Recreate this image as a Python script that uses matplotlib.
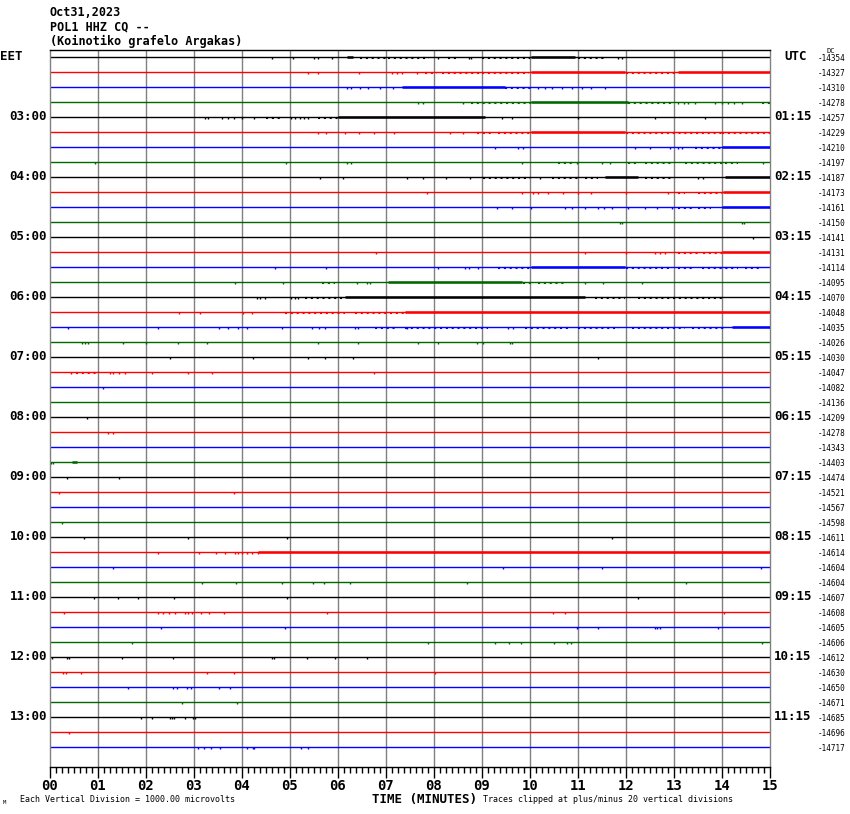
import numpy as np
import matplotlib
matplotlib.use("Agg")
import matplotlib.pyplot as plt

# Header / station info
title_lines = ["Oct31,2023", "POL1 HHZ CQ --", "(Koinotiko grafelo Argakas)"]

# DC offset printed at right of every trace (one per 15-minute line)
trace_dc = [-14354, -14327, -14310, -14278, -14257, -14229, -14210, -14197,
            -14187, -14173, -14161, -14150, -14141, -14131, -14114, -14095,
            -14070, -14048, -14035, -14026, -14030, -14047, -14082, -14136,
            -14209, -14278, -14343, -14403, -14474, -14521, -14567, -14598,
            -14611, -14614, -14604, -14604, -14607, -14608, -14605, -14606,
            -14612, -14630, -14650, -14671, -14685, -14696, -14717]

# hour labels, one every 4 traces
eet_labels = ["EET", "03:00", "04:00", "05:00", "06:00", "07:00", "08:00",
              "09:00", "10:00", "11:00", "12:00", "13:00"]
utc_labels = ["UTC", "01:15", "02:15", "03:15", "04:15", "05:15", "06:15",
              "07:15", "08:15", "09:15", "10:15", "11:15"]

minute_labels = ["%02d" % m for m in range(16)]

# isolated spikes (minute positions) per trace
trace_spikes = {
    0: [4.62, 5.07, 5.51, 5.59, 5.88, 8.09, 8.72, 8.78, 11.84, 11.91],
    1: [5.38, 5.59, 6.44, 7.12, 7.22, 7.33, 7.64],
    2: [6.18, 6.28, 6.46, 6.63, 6.88, 7.15, 10.17, 10.31, 10.45, 10.66,
        10.87, 11.08, 11.28, 11.56],
    3: [7.67, 7.78, 8.61, 13.09, 13.2, 13.3, 13.44, 13.85, 13.99, 14.13,
        14.25, 14.41],
    4: [3.23, 3.30, 3.58, 3.70, 3.84, 3.99, 4.24, 5.03, 5.1, 5.2, 5.3, 5.38,
        9.41, 9.62, 11.01, 12.6, 13.65],
    5: [5.59, 5.76, 6.15, 6.44, 6.76, 7.17, 8.33, 8.61],
    6: [9.27, 9.76, 9.86, 12.19, 12.5, 12.92, 13.09, 13.16],
    7: [0.94, 4.91, 6.18, 6.28, 9.83, 10.97, 11.49, 11.67, 14.86],
    8: [5.62, 6.11, 7.43, 7.78, 8.26, 8.75, 10.21, 13.51, 13.6],
    9: [7.85, 9.83, 10.06, 10.17, 10.38, 10.69, 11.01, 11.28, 12.01, 12.88],
    10: [9.31, 9.62, 10.03, 10.73, 10.87, 11.15, 11.42, 11.55, 11.7, 12.05,
         12.4, 12.64, 12.95],
    11: [11.88, 11.91, 14.41, 14.45],
    12: [14.65],
    13: [6.79, 11.15, 12.01, 12.6, 12.7, 12.81],
    14: [4.69, 5.76, 8.09, 8.65, 8.72, 8.92],
    15: [3.85, 4.86, 6.39, 6.6, 6.67, 11.15, 11.53, 12.33],
    16: [4.31, 4.38, 4.48, 5.03, 5.1, 5.17],
    17: [2.69, 3.13, 4.03, 4.2],
    18: [0.38, 2.26, 3.53, 3.70, 3.91, 4.10, 4.83, 5.45, 5.6, 5.73, 6.35,
         6.42, 7.43, 9.55, 9.65],
    19: [0.66, 0.73, 0.8, 1.53, 1.99, 2.66, 3.28, 5.59, 6.41, 7.67, 8.09,
         8.89, 9.03, 9.58, 9.62],
    20: [2.5, 4.22, 5.38, 5.73, 6.32, 11.41],
    21: [0.44, 1.24, 1.32, 1.44, 1.56, 2.12, 2.88, 3.38, 6.76],
    22: [1.11],
    24: [0.78],
    25: [1.2, 1.31],
    27: [0.02, 0.07],
    28: [0.36, 1.44],
    29: [0.19, 3.84],
    31: [0.24],
    32: [0.71, 2.88, 4.94, 11.7],
    33: [2.24, 3.1, 3.45, 3.65, 3.85, 3.92, 3.99, 4.1, 4.2, 4.34],
    34: [1.31, 9.44, 10.99, 11.51, 14.81],
    35: [3.17, 3.88, 4.83, 5.47, 5.7, 6.25, 8.68, 13.26],
    36: [0.92, 1.41, 1.84, 2.59, 4.94, 12.24],
    37: [0.3, 2.26, 2.36, 2.47, 2.6, 2.81, 2.88, 2.95, 3.15, 3.31, 3.63,
         5.78, 10.47, 10.72, 14.05],
    38: [2.31, 4.9, 10.97, 11.42, 12.6, 12.65, 12.71, 13.92],
    39: [1.7, 7.87, 9.27, 9.56, 9.81, 10.51, 10.78, 10.85, 14.83],
    40: [0.05, 0.35, 0.4, 1.51, 2.57, 4.62, 4.67, 5.35, 5.94, 6.6],
    41: [0.28, 0.33, 0.65, 3.28, 3.84, 8.02],
    42: [1.63, 2.57, 2.64, 2.85, 2.93, 3.53, 3.74],
    43: [2.76, 3.9],
    44: [1.89, 2.13, 2.5, 2.55, 2.59, 2.81, 2.97, 3.03],
    45: [0.4],
    46: [3.09, 3.21, 3.35, 3.54, 4.11, 4.22, 4.24, 5.23, 5.38],
}

# intermittent noise stretches (start, end) in minutes
trace_spotty = {
    0: [(6.45, 7.0), (7.05, 7.9), (8.3, 8.47), (8.99, 10.0), (11.0, 11.56)],
    1: [(7.81, 8.06), (8.16, 8.99), (8.99, 9.97), (12.0, 13.09)],
    2: [(9.48, 10.03)],
    3: [(8.78, 10.03), (12.05, 12.95), (14.83, 15.0)],
    4: [(4.51, 4.83), (5.59, 6.0)],
    5: [(8.89, 9.2), (9.34, 10.03), (12.0, 14.0), (14.0, 15.0)],
    6: [(13.44, 14.0)],
    7: [(10.59, 10.87), (12.05, 12.26), (12.4, 12.95), (13.23, 13.99),
        (14.06, 14.34)],
    8: [(9.03, 10.0), (10.45, 11.01), (11.15, 11.42), (12.4, 12.95)],
    9: [(13.09, 13.23), (13.51, 13.99)],
    10: [(13.09, 13.37), (13.51, 13.78)],
    13: [(13.09, 13.51), (13.6, 14.0)],
    14: [(9.34, 10.03), (12.0, 12.95), (13.09, 13.37), (13.58, 14.34),
         (14.48, 14.83)],
    15: [(5.66, 5.94), (9.86, 10.03), (10.17, 10.73)],
    16: [(5.31, 6.15), (11.35, 11.98), (12.26, 13.99)],
    17: [(4.9, 6.15), (6.35, 7.4)],
    18: [(6.77, 7.26), (7.4, 9.13), (9.9, 10.8), (11.0, 11.85), (12.12, 13.23),
         (13.37, 14.06)],
    21: [(0.55, 1.0)],
}

# continuous noisy stretches (start, end) in minutes
trace_dense = {
    0: [(6.18, 6.32), (10.03, 10.94)],
    1: [(10.03, 11.98), (13.09, 15.0)],
    2: [(7.33, 9.48)],
    3: [(10.03, 12.05)],
    4: [(6.0, 9.06)],
    5: [(10.03, 11.98)],
    6: [(14.0, 15.0)],
    8: [(11.56, 12.26), (14.06, 15.0)],
    9: [(14.03, 15.0)],
    10: [(14.0, 15.0)],
    13: [(14.0, 15.0)],
    14: [(10.03, 11.98)],
    15: [(7.05, 9.83)],
    16: [(6.15, 11.15)],
    17: [(7.4, 15.0)],
    18: [(14.2, 15.0)],
    27: [(0.45, 0.56)],
    33: [(4.34, 15.0)],
}

colors = ["black", "#ff0000", "#0000ff", "#006600"]
n_traces = len(trace_dc)

W, H = 850, 814
fig = plt.figure(figsize=(W / 100, H / 100), dpi=100)
ax = fig.add_axes([50 / W, 1 - 767 / H, 720 / W, 717 / H])

mono = "DejaVu Sans Mono"

# minute grid
for m in range(1, 15):
    ax.axvline(m, color="#808080", lw=1.0, zorder=1)

for i in range(n_traces):
    c = colors[i % 4]
    ax.hlines(i, 0, 15, color=c, lw=1.0, zorder=2)
    for s, e in trace_dense.get(i, []):
        ax.hlines(i + 0.025, s, e, color=c, lw=1.8, zorder=3)
    for s, e in trace_spotty.get(i, []):
        ax.hlines(i + 0.04, s, e, color=c, lw=1.5, linestyles=(0, (1.0, 1.8)),
                  zorder=3)
    sp = trace_spikes.get(i, [])
    if sp:
        ax.vlines(sp, i - 0.03, i + 0.14, color=c, lw=1.0, zorder=3)

ax.set_xlim(0, 15)
ax.set_ylim(n_traces - 1 + 20 / 15, -7 / 15)

for side in ["left", "right"]:
    ax.spines[side].set_color("#808080")
    ax.spines[side].set_linewidth(1.0)
for side in ["top", "bottom"]:
    ax.spines[side].set_color("black")
    ax.spines[side].set_linewidth(1.0)

ax.set_yticks([])
ax.set_xticks(range(16))
ax.set_xticklabels(minute_labels, fontfamily=mono, fontweight="bold",
                   fontsize=10)
ax.set_xticks(np.arange(0, 15.001, 0.125), minor=True)
ax.tick_params(axis="x", which="major", direction="out", length=8, width=1,
               pad=1, color="black")
ax.tick_params(axis="x", which="minor", direction="out", length=4.5, width=1,
               color="black")


def px(x, y):
    return x / W, 1 - y / H


# header
for k, line in enumerate(title_lines):
    fig.text(*px(50, 12 + 14.5 * k), line, fontfamily=mono, fontsize=8.5,
             fontweight="bold", va="center", ha="left")

# left / right hour labels
for k, lab in enumerate(eet_labels):
    i = 4 * k
    if k == 0:
        ax.text(-50 / 48, i, lab, fontfamily=mono, fontweight="bold",
                fontsize=9, ha="left", va="center", clip_on=False)
    else:
        ax.text(-3 / 48, i, lab, fontfamily=mono, fontweight="bold",
                fontsize=9, ha="right", va="center", clip_on=False)
for k, lab in enumerate(utc_labels):
    i = 4 * k
    xoff = 14 / 48 if k == 0 else 4 / 48
    ax.text(15 + xoff, i, lab, fontfamily=mono, fontweight="bold",
            fontsize=9, ha="left", va="center", clip_on=False)

for i, dc in enumerate(trace_dc):
    ax.text(16.0, i + 0.12, str(dc), fontfamily=mono, fontsize=5.5,
            ha="left", va="center", clip_on=False)
ax.text(16.17, -0.42, "DC", fontfamily=mono, fontsize=5, ha="left",
        va="center", clip_on=False)

# bottom notes
fig.text(*px(425, 799), "TIME (MINUTES)", fontfamily=mono, fontweight="bold",
         fontsize=9, ha="center", va="center")
fig.text(*px(20, 800), "Each Vertical Division = 1000.00 microvolts",
         fontfamily=mono, fontsize=6, ha="left", va="center")
fig.text(*px(483, 800), "Traces clipped at plus/minus 20 vertical divisions",
         fontfamily=mono, fontsize=6, ha="left", va="center")
fig.text(*px(3, 803), "M", fontfamily=mono, fontsize=4, ha="left",
         va="center")

fig.savefig("out.png", dpi=100)
